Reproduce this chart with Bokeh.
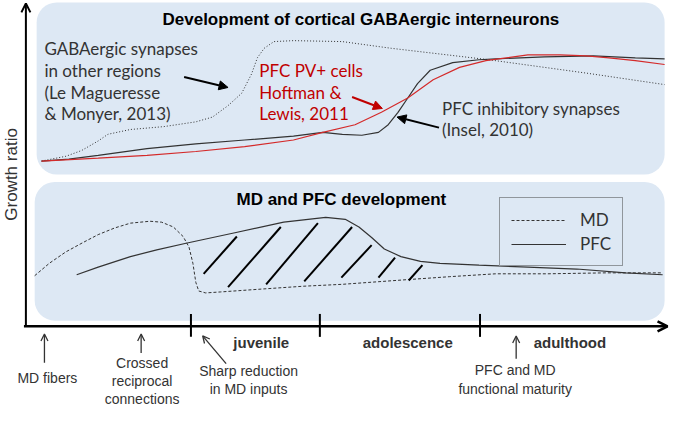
from math import pi
from bokeh.plotting import figure
from bokeh.models import Range1d, BoxAnnotation, Arrow, OpenHead, NormalHead, Legend, LegendItem
from bokeh.core.properties import value
from bokeh.embed import file_html
from bokeh.resources import INLINE

# ---- data (reference pixel units) ----
gaba_other_x = [42, 67, 83, 100, 110, 133, 167, 200, 217, 233, 247, 257, 263, 270, 280, 300, 350, 400, 450, 500, 550, 600, 640, 680]
gaba_other_y = [168, 163, 157, 147, 140, 135, 132, 127, 122, 110, 97, 77, 60, 50, 43, 42, 43, 50, 56, 62, 69, 76, 82, 88]

pfc_inhib_x = [42, 70, 100, 150, 200, 250, 300, 330, 350, 370, 387, 397, 407, 417, 427, 440, 463, 490, 507, 557, 607, 650, 680]
pfc_inhib_y = [168, 166, 162, 155, 150, 146, 142, 138, 140, 141, 138, 130, 117, 102, 87, 73, 65, 62, 61, 59, 58, 60, 61]

pfc_pv_x = [42, 100, 150, 200, 250, 300, 330, 363, 390, 417, 443, 470, 497, 510, 540, 573, 600, 623, 650, 680]
pfc_pv_y = [168, 165, 162, 158, 153, 146, 138, 130, 117, 102, 83, 70, 63, 61, 57, 57, 58, 60, 63, 67]

md_x = [35, 50, 67, 85, 100, 117, 133, 153, 165, 177, 187, 193, 197, 200, 203, 210, 225, 267, 310, 350, 418, 460, 507, 560, 620, 678]
md_y = [288, 275, 263, 253, 245, 238, 233, 231, 232, 237, 247, 258, 275, 295, 304, 306, 305, 302, 299, 297, 292, 289, 286, 286, 285, 285]

pfc_x = [78, 100, 133, 160, 190, 240, 290, 333, 353, 367, 380, 393, 410, 430, 450, 490, 540, 590, 640, 678]
pfc_y = [287, 279, 268, 261, 254, 243, 232, 227, 229, 237, 248, 260, 268, 273, 275, 277, 279, 281, 285, 287]

hatch_x0 = [208, 233, 272, 311, 349, 387, 418]
hatch_y0 = [286, 300, 297, 294, 290, 290, 293]
hatch_x1 = [242, 287, 325, 360, 380, 404, 432]
hatch_y1 = [247, 237, 233, 237, 256, 269, 277]

stage_ticks = [195, 327, 491]
stage_labels = ["juvenile", "adolescence", "adulthood"]
stage_label_x = [267, 417, 583]

BLUE = "#dde8f4"
DARK = "#333333"
RED = "#c00000"

p = figure(width=669, height=409, x_range=Range1d(0, 685), y_range=Range1d(428, 0),
           output_backend="svg", toolbar_location=None, min_border=0)
p.axis.visible = False
p.grid.visible = False
p.outline_line_color = None
p.background_fill_color = "white"

# panels
for l, r, t, b in [(37, 680, 2, 182), (35, 680, 190, 335)]:
    p.add_layout(BoxAnnotation(left=l, right=r, top=t, bottom=b, fill_color=BLUE, fill_alpha=1,
                               line_color=None, border_radius=20, level="underlay"))

# titles
p.text(x=[369], y=[20], text=["Development of cortical GABAergic interneurons"], text_font=value("Liberation Sans"),
       text_font_style="bold", text_font_size="17px", text_align="center", text_baseline="middle", text_color="black")
p.text(x=[349], y=[208], text=["MD and PFC development"], text_font=value("Liberation Sans"),
       text_font_style="bold", text_font_size="17px", text_align="center", text_baseline="middle", text_color="black")

# top curves
p.line(gaba_other_x, gaba_other_y, line_color=DARK, line_width=1, line_dash="1 2")
p.line(pfc_inhib_x, pfc_inhib_y, line_color=DARK, line_width=1.2)
p.line(pfc_pv_x, pfc_pv_y, line_color="#d42a2a", line_width=1.2)

# top texts
p.text(x=[45] * 4, y=[50, 73, 96, 118],
       text=["GABAergic synapses", "in other regions", "(Le Magueresse", "& Monyer, 2013)"],
       text_font=value("Lato"), text_font_size="17px", text_baseline="middle", text_color=DARK)
p.text(x=[265] * 3, y=[73, 96, 118], text=["PFC PV+ cells", "Hoftman &", "Lewis, 2011"],
       text_font=value("Lato"), text_font_size="17px", text_baseline="middle", text_color=RED)
p.text(x=[452] * 2, y=[113, 135], text=["PFC inhibitory synapses", "(Insel, 2010)"],
       text_font=value("Lato"), text_font_size="17px", text_baseline="middle", text_color=DARK)

p.add_layout(Arrow(x_start=188, y_start=80, x_end=233, y_end=91, line_width=2, line_color="black",
                   end=NormalHead(size=9, fill_color="black", line_color="black")))
p.add_layout(Arrow(x_start=360, y_start=101, x_end=391, y_end=113, line_width=2, line_color=RED,
                   end=NormalHead(size=9, fill_color=RED, line_color=RED)))
p.add_layout(Arrow(x_start=449, y_start=133, x_end=406, y_end=122, line_width=2, line_color="black",
                   end=NormalHead(size=9, fill_color="black", line_color="black")))

# bottom curves
md_r = p.line(md_x, md_y, line_color=DARK, line_width=1, line_dash="3 2")
pfc_r = p.line(pfc_x, pfc_y, line_color=DARK, line_width=1.2)
p.segment(hatch_x0, hatch_y0, hatch_x1, hatch_y1, line_color="black", line_width=2)

legend = Legend(items=[LegendItem(label="MD", renderers=[md_r]), LegendItem(label="PFC", renderers=[pfc_r])],
                location=(499, 143), orientation="vertical", padding=11, margin=0, spacing=3,
                glyph_width=55, glyph_height=20, label_standoff=14, label_height=20,
                label_text_font="Lato", label_text_font_size="17px", label_text_color=DARK,
                background_fill_color=BLUE, background_fill_alpha=1,
                border_line_color="#444444", border_line_width=1)
p.add_layout(legend, "center")

# axes
p.add_layout(Arrow(x_start=26, y_start=341, x_end=26, y_end=3, line_width=2, line_color="black",
                   end=OpenHead(size=9, line_width=2, line_color="black")))
p.add_layout(Arrow(x_start=24, y_start=341, x_end=683, y_end=341, line_width=2.5, line_color="black",
                   end=OpenHead(size=10, line_width=2.5, line_color="black")))
p.segment(stage_ticks, [328] * 3, stage_ticks, [352] * 3, line_color="black", line_width=2)
p.text(x=[11], y=[182], text=["Growth ratio"], angle=pi / 2, text_font=value("Liberation Sans"),
       text_font_size="17px", text_align="center", text_baseline="middle", text_color=DARK)

p.text(x=stage_label_x, y=[358] * 3, text=stage_labels, text_font=value("Liberation Sans"),
       text_font_style="bold", text_font_size="15px", text_align="center", text_baseline="middle", text_color=DARK)

# bottom annotations
p.text(x=[48], y=[395], text=["MD fibers"], text_font=value("Liberation Sans"), text_font_size="14px",
       text_align="center", text_baseline="middle", text_color=DARK)
p.text(x=[145] * 3, y=[379, 398, 417], text=["Crossed", "reciprocal", "connections"],
       text_font=value("Liberation Sans"), text_font_size="14px", text_align="center", text_baseline="middle", text_color=DARK)
p.text(x=[254] * 2, y=[388, 407], text=["Sharp reduction", "in MD inputs"],
       text_font=value("Liberation Sans"), text_font_size="14px", text_align="center", text_baseline="middle", text_color=DARK)
p.text(x=[527] * 2, y=[387, 407], text=["PFC and MD", "functional maturity"],
       text_font=value("Liberation Sans"), text_font_size="14px", text_align="center", text_baseline="middle", text_color=DARK)

for xs, ys, xe, ye in [(45, 379, 45, 349), (144, 369, 144, 349), (231, 380, 207, 351), (528, 375, 528, 351)]:
    p.add_layout(Arrow(x_start=xs, y_start=ys, x_end=xe, y_end=ye, line_width=1.3, line_color=DARK,
                       end=OpenHead(size=7, line_width=1.3, line_color=DARK)))

open("out.html", "w").write(file_html(p, INLINE))
